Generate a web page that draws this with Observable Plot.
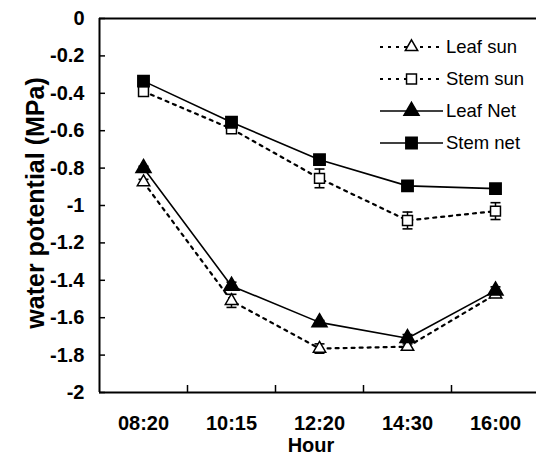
<!DOCTYPE html>
<html>
<head>
<meta charset="utf-8">
<script src="https://cdn.jsdelivr.net/npm/d3@7"></script>
<script src="https://cdn.jsdelivr.net/npm/@observablehq/plot@0.6"></script>
<style>
  html, body { margin: 0; padding: 0; background: #fff; }
  #chart { width: 536px; height: 457px; position: relative; }
  svg { font-family: "Liberation Sans", Arial, sans-serif; }
</style>
</head>
<body>
<div id="chart"></div>
<script>
// ---- data ----
const hours = ["08:20", "10:15", "12:20", "14:30", "16:00"];
const yTicks = [0, -0.2, -0.4, -0.6, -0.8, -1, -1.2, -1.4, -1.6, -1.8, -2];
const seriesNames = ["Leaf sun", "Stem sun", "Leaf Net", "Stem net"];
const leafSun    = [-0.875, -1.51, -1.765, -1.755, -1.475];
const leafSunErr = [0.015, 0.035, 0.025, 0.015, 0.015];
const stemSun    = [-0.39, -0.59, -0.855, -1.08, -1.03];
const stemSunErr = [0.015, 0.02, 0.05, 0.045, 0.045];
const leafNet    = [-0.80, -1.43, -1.625, -1.71, -1.455];
const leafNetErr = [0.01, 0.02, 0.01, 0.02, 0.02];
const stemNet    = [-0.335, -0.555, -0.755, -0.895, -0.91];
const stemNetErr = [0.015, 0.015, 0.015, 0.01, 0.01];

const styles = {
  "Leaf sun": {symbol: "triangle", fill: "white", dash: "3,5", r: 4.6},
  "Stem sun": {symbol: "square", fill: "white", dash: "3,5", r: 5.6},
  "Leaf Net": {symbol: "triangle", fill: "black", dash: null, r: 5.6},
  "Stem net": {symbol: "square", fill: "black", dash: null, r: 6.4}
};

const valuesBy = {"Leaf sun": leafSun, "Stem sun": stemSun, "Leaf Net": leafNet, "Stem net": stemNet};
const errBy = {"Leaf sun": leafSunErr, "Stem sun": stemSunErr, "Leaf Net": leafNetErr, "Stem net": stemNetErr};

const rows = [];
for (const s of seriesNames) {
  hours.forEach((h, i) => rows.push({series: s, i, hour: h, v: valuesBy[s][i], e: errBy[s][i]}));
}

const capSymbol = {
  draw(ctx, size) {
    const w = Math.sqrt(size / Math.PI);
    ctx.moveTo(-w, 0); ctx.lineTo(w, 0);
  }
};

const marks = [];
// frame lines
marks.push(Plot.ruleY([0, -2], {stroke: "black", strokeWidth: 2}));
marks.push(Plot.ruleX([-0.5], {stroke: "black", strokeWidth: 2}));
// axes
marks.push(Plot.axisY({ticks: yTicks, tickSize: 0, tickPadding: 15, fontSize: 20, fontWeight: "bold", tickFormat: d => String(d), label: null}));
marks.push(Plot.axisY({ticks: yTicks, tickSize: -6, tickFormat: () => "", label: null, strokeWidth: 1.5}));
marks.push(Plot.axisX({ticks: [0, 1, 2, 3, 4], tickSize: 0, tickPadding: 23, fontSize: 20, fontWeight: "bold", tickFormat: i => hours[i], label: null}));
marks.push(Plot.axisX({ticks: [0.5, 1.5, 2.5, 3.5], tickSize: -7, tickFormat: () => "", label: null, strokeWidth: 1.5}));

for (const s of seriesNames) {
  const st = styles[s];
  const data = rows.filter(d => d.series === s);
  marks.push(Plot.line(data, {x: "i", y: "v", stroke: "black", strokeWidth: st.dash ? 2.2 : 1.6, strokeDasharray: st.dash}));
  marks.push(Plot.ruleX(data, {x: "i", y1: d => d.v - d.e, y2: d => d.v + d.e, stroke: "black", strokeWidth: 1.5}));
  marks.push(Plot.dot(data, {x: "i", y: d => d.v - d.e, symbol: capSymbol, r: 5, stroke: "black", strokeWidth: 1.6}));
  marks.push(Plot.dot(data, {x: "i", y: d => d.v + d.e, symbol: capSymbol, r: 5, stroke: "black", strokeWidth: 1.6}));
  marks.push(Plot.dot(data, {x: "i", y: "v", symbol: st.symbol, r: st.r, fill: st.fill, stroke: "black", strokeWidth: 1.5}));
}

const chart = Plot.plot({
  width: 536,
  height: 457,
  marginTop: 18,
  marginBottom: 65,
  marginLeft: 99,
  marginRight: 0,
  style: {fontFamily: "'Liberation Sans', Arial, sans-serif", background: "white", color: "black", overflow: "hidden"},
  x: {type: "linear", domain: [-0.5, 4.5], range: [99, 539]},
  y: {domain: [-2, 0]},
  marks
});

// titles and legend (drawn onto the same svg)
const svg = d3.select(chart);
svg.append("text")
  .attr("x", 311).attr("y", 452)
  .attr("text-anchor", "middle")
  .attr("font-size", 20).attr("font-weight", "bold")
  .text("Hour");
svg.append("text")
  .attr("transform", "translate(44,203) rotate(-90)")
  .attr("text-anchor", "middle")
  .attr("font-size", 25).attr("font-weight", "bold")
  .text("water potential (MPa)");

const legend = svg.append("g").attr("text-anchor", "start");
seriesNames.forEach((s, k) => {
  const st = styles[s];
  const y = 47 + k * 32;
  legend.append("line").attr("x1", 380).attr("x2", 443).attr("y1", y).attr("y2", y)
    .attr("stroke", "black").attr("stroke-width", st.dash ? 2.2 : 1.6)
    .attr("stroke-dasharray", st.dash);
  const sym = d3.symbol(st.symbol === "triangle" ? d3.symbolTriangle : d3.symbolSquare, Math.PI * st.r * st.r);
  legend.append("path").attr("d", sym()).attr("transform", `translate(411.5,${y})`)
    .attr("fill", st.fill).attr("stroke", "black").attr("stroke-width", 1.5);
  legend.append("text").attr("x", 446).attr("y", y).attr("dy", "0.35em")
    .attr("text-anchor", "start")
    .attr("font-size", 18.5).text(s);
});

document.getElementById("chart").appendChild(chart);
</script>
</body>
</html>
